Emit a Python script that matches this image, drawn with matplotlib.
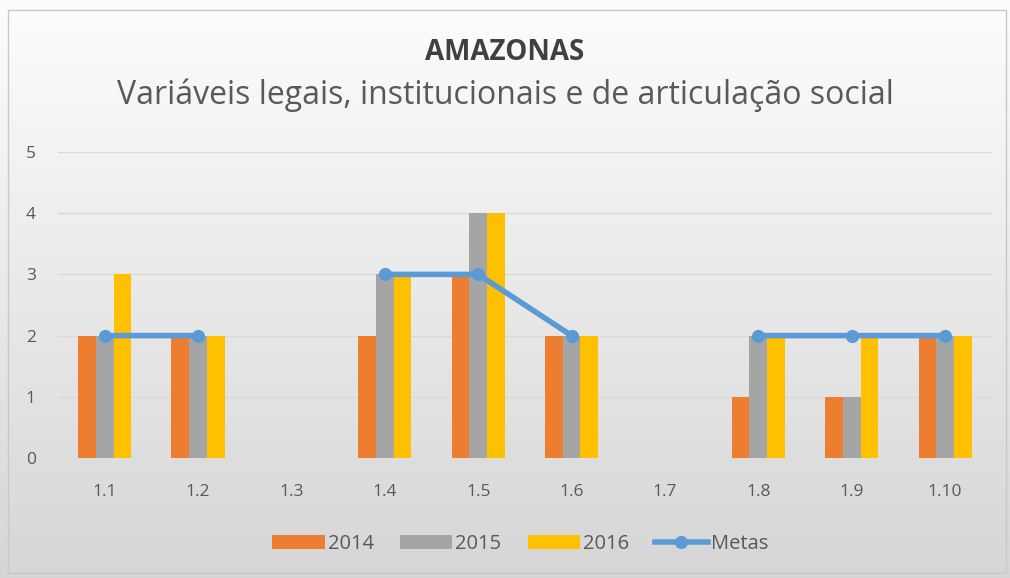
import numpy as np
import matplotlib
matplotlib.use('Agg')
import matplotlib.pyplot as plt
from matplotlib.patches import Rectangle

# Chart data
categories = ['1.1', '1.2', '1.3', '1.4', '1.5', '1.6', '1.7', '1.8', '1.9', '1.10']
v2014 = [2, 2, 0, 2, 3, 2, 0, 1, 1, 2]
v2015 = [2, 2, 0, 3, 4, 2, 0, 2, 1, 2]
v2016 = [3, 2, 0, 3, 4, 2, 0, 2, 2, 2]
metas = [2, 2, np.nan, 3, 3, 2, np.nan, 2, 2, 2]

plt.rcParams['font.family'] = ['Open Sans', 'DejaVu Sans']

fig = plt.figure(figsize=(10.1, 5.78), dpi=100)

# gradient background for the whole chart area
bg = fig.add_axes([0, 0, 1, 1], zorder=-10)
grad = np.linspace(0, 1, 256).reshape(-1, 1)
bg.imshow(grad, aspect='auto', cmap=matplotlib.colors.LinearSegmentedColormap.from_list(
    'g', ['#fdfdfd', '#d6d6d6']), extent=[0, 1, 0, 1], origin='upper')
bg.add_patch(Rectangle((0.008, 0.008), 0.988, 0.975, fill=False, edgecolor='#c8c8c8', lw=1))
bg.set_xlim(0, 1)
bg.set_ylim(0, 1)
bg.axis('off')

ax = fig.add_axes([0.0574, 0.2076, 0.9246, 0.5294])
ax.set_facecolor('none')

x = np.arange(len(categories))
w = 0.19
b1 = ax.bar(x - w, v2014, w, color='#ED7D31', label='2014', zorder=2)
b2 = ax.bar(x, v2015, w, color='#A5A5A5', label='2015', zorder=2)
b3 = ax.bar(x + w, v2016, w, color='#FFC000', label='2016', zorder=2)
ln, = ax.plot(x, metas, color='#5B9BD5', lw=4, marker='o', ms=8.5, label='Metas', zorder=3)

ax.set_xlim(-0.5, len(categories) - 0.5)
ax.set_ylim(0, 5)
ax.set_yticks(range(6))
ax.set_xticks(x)
ax.set_xticklabels(categories)
ax.yaxis.grid(True, color='#d9d9d9', lw=1, zorder=0)
ax.tick_params(length=0, labelsize=12.5, colors='#595959')
ax.tick_params(axis='x', pad=19)
ax.tick_params(axis='y', pad=16)
for s in ax.spines.values():
    s.set_visible(False)

fig.text(0.5, 0.91, 'AMAZONAS', ha='center', va='center', fontsize=20,
         fontweight='bold', color='#404040')
fig.text(0.5, 0.835, 'Variáveis legais, institucionais e de articulação social',
         ha='center', va='center', fontsize=23, color='#595959')

leg = fig.legend([b1, b2, b3, ln], ['2014', '2015', '2016', 'Metas'],
                 loc='center', bbox_to_anchor=(0.515, 0.058), ncol=4, frameon=False,
                 fontsize=14.5, handlelength=2.6, handleheight=0.7,
                 handletextpad=0.15, columnspacing=1.3)
for t in leg.get_texts():
    t.set_color('#595959')

fig.savefig('out.png', dpi=100)
